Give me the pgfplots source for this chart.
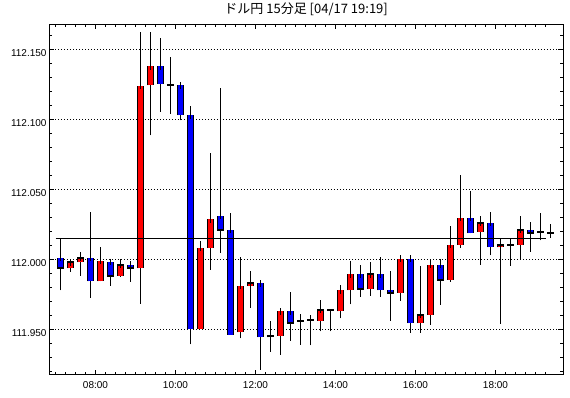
\documentclass[border=0pt]{standalone}
\usepackage{pgfplots}
\pgfplotsset{compat=1.18}
\usepackage{pgfplotstable}
\usepackage{fontspec}
\setmainfont{Liberation Sans}
\newfontfamily\cjk{Noto Sans CJK JP}
\definecolor{upred}{RGB}{255,0,0}
\definecolor{dnblue}{RGB}{0,0,255}
\pgfplotstableread{
t o h l c
7.125 112.0014 112.0150 111.9779 111.9936
7.375 111.9936 112.0007 111.9911 111.9979
7.625 111.9979 112.0054 111.9883 112.0014
7.875 112.0014 112.0340 111.9726 111.9843
8.125 111.9843 112.0088 111.9843 111.9988
8.375 111.9981 111.9998 111.9812 111.9883
8.625 111.9883 112.0007 111.9876 111.9964
8.875 111.9964 111.9988 111.9840 111.9936
9.125 111.9936 112.1624 111.9683 112.1243
9.375 112.1243 112.1624 112.0886 112.1380
9.625 112.1380 112.1581 112.1054 112.1257
9.875 112.1257 112.1445 112.1041 112.1243
10.125 112.1243 112.1271 112.0993 112.1029
10.375 112.1029 112.1095 111.9393 111.9507
10.625 111.9507 112.0131 111.9507 112.0083
10.875 112.0083 112.0759 111.9926 112.0286
11.125 112.0314 112.1224 112.0047 112.0214
11.375 112.0214 112.0331 111.9464 111.9464
11.625 111.9479 112.0016 111.9436 111.9814
11.875 111.9814 111.9916 111.9654 111.9829
12.125 111.9829 111.9829 111.9211 111.9443
12.375 111.9443 111.9559 111.9340 111.9457
12.625 111.9457 111.9629 111.9319 111.9629
12.875 111.9629 111.9766 111.9419 111.9543
13.125 111.9561 111.9614 111.9390 111.9561
13.375 111.9566 111.9607 111.9386 111.9566
13.625 111.9564 111.9709 111.9486 111.9638
13.875 111.9636 111.9643 111.9486 111.9636
14.125 111.9629 111.9816 111.9579 111.9779
14.375 111.9779 111.9988 111.9679 111.9893
14.625 111.9893 111.9959 111.9733 111.9786
14.875 111.9786 111.9981 111.9740 111.9893
15.125 111.9893 112.0016 111.9733 111.9779
15.375 111.9779 111.9916 111.9561 111.9764
15.625 111.9764 112.0007 111.9704 112.0007
15.875 112.0007 112.0007 111.9476 111.9543
16.125 111.9543 111.9952 111.9476 111.9607
16.375 111.9607 112.0000 111.9533 111.9964
16.625 111.9964 112.0007 111.9676 111.9857
16.875 111.9857 112.0236 111.9840 112.0107
17.125 112.0104 112.0602 112.0083 112.0300
17.375 112.0300 112.0488 112.0186 112.0186
17.625 112.0200 112.0309 111.9961 112.0264
17.875 112.0264 112.0338 112.0029 112.0086
18.125 112.0086 112.0157 111.9540 112.0107
18.375 112.0107 112.0145 111.9954 112.0107
18.625 112.0107 112.0309 112.0000 112.0214
18.875 112.0214 112.0266 112.0057 112.0186
19.125 112.0186 112.0331 112.0136 112.0200
19.375 112.0200 112.0252 112.0157 112.0186
}\candles
\begin{document}
\begin{tikzpicture}
\useasboundingbox (0,0) rectangle (570bp,398bp);
\begin{axis}[
  at={(49.3bp,23bp)}, anchor=south west,
  scale only axis, width=513.7bp, height=350.5bp,
  xmin=6.845, xmax=19.6875,
  ymin=111.9175, ymax=112.16786,
  axis line style={black, line width=1bp},
  xtick={8,10,12,14,16,18},
  xticklabels={08:00,10:00,12:00,14:00,16:00,18:00},
  minor xtick={7,7.25,...,19.25},
  ytick={111.95,112.00,112.05,112.10,112.15},
  yticklabels={111.950,112.000,112.050,112.100,112.150},
  minor ytick={111.92,111.93,111.94,111.96,111.97,111.98,111.99,112.01,112.02,112.03,112.04,112.06,112.07,112.08,112.09,112.11,112.12,112.13,112.14,112.16},
  scaled y ticks=false, scaled x ticks=false,
  tick pos=both, tick align=inside,
  major tick length=5bp, minor tick length=3bp,
  every tick/.style={black, line width=1bp},
  ymajorgrids,
  major grid style={black, line width=0.8bp, dash pattern=on 0.8bp off 2.2bp},
  tick label style={font=\fontsize{10bp}{12bp}\selectfont, inner sep=0pt},
  xticklabel style={anchor=north, yshift=-6bp},
  yticklabel style={anchor=north east, xshift=-2.6bp, yshift=0.5bp},
  title={ドル円 15分足 [04/17 19:19]},
  title style={font=\cjk\fontsize{13bp}{15bp}\selectfont, at={(0.5,1)}, anchor=base, yshift=5.5bp, inner sep=0pt},
  clip=false,
]
% wicks
\addplot[draw=none, mark=none, forget plot,
  error bars/.cd, y dir=plus, y explicit, error mark=none,
  error bar style={draw=black, line width=1bp}]
  table[x=t, y=l, y error plus expr={\thisrow{h}-\thisrow{l}}] {\candles};
% up candles (red)
\addplot[draw=none, mark=none, forget plot,
  error bars/.cd, y dir=plus, y explicit, error mark=none,
  error bar style={draw=black, line width=6.5bp}]
  table[x=t, y expr={\thisrow{c}>\thisrow{o} ? \thisrow{o} : nan},
        y error plus expr={\thisrow{c}-\thisrow{o}}] {\candles};
\addplot[draw=none, mark=none, forget plot,
  error bars/.cd, y dir=plus, y explicit, error mark=-,
  error mark options={draw=black, line width=1bp, mark size=3.25bp},
  error bar style={draw=upred, line width=4.5bp}]
  table[x=t, y expr={\thisrow{c}>\thisrow{o} ? \thisrow{o} : nan},
        y error plus expr={\thisrow{c}-\thisrow{o}}] {\candles};
% down candles (blue)
\addplot[draw=none, mark=none, forget plot,
  error bars/.cd, y dir=plus, y explicit, error mark=none,
  error bar style={draw=black, line width=6.5bp}]
  table[x=t, y expr={\thisrow{c}<\thisrow{o} ? \thisrow{c} : nan},
        y error plus expr={\thisrow{o}-\thisrow{c}}] {\candles};
\addplot[draw=none, mark=none, forget plot,
  error bars/.cd, y dir=plus, y explicit, error mark=-,
  error mark options={draw=black, line width=1bp, mark size=3.25bp},
  error bar style={draw=dnblue, line width=4.5bp}]
  table[x=t, y expr={\thisrow{c}<\thisrow{o} ? \thisrow{c} : nan},
        y error plus expr={\thisrow{o}-\thisrow{c}}] {\candles};
% doji (open = close)
\addplot[only marks, mark=-, mark size=3.25bp, mark options={draw=black, line width=2bp}, forget plot]
  table[x=t, y expr={\thisrow{c}==\thisrow{o} ? \thisrow{c} : nan}] {\candles};
% reference line
\addplot[black, line width=1bp, mark=none] coordinates {(7,112.015) (19.25,112.015)};
\end{axis}
\end{tikzpicture}
\end{document}
